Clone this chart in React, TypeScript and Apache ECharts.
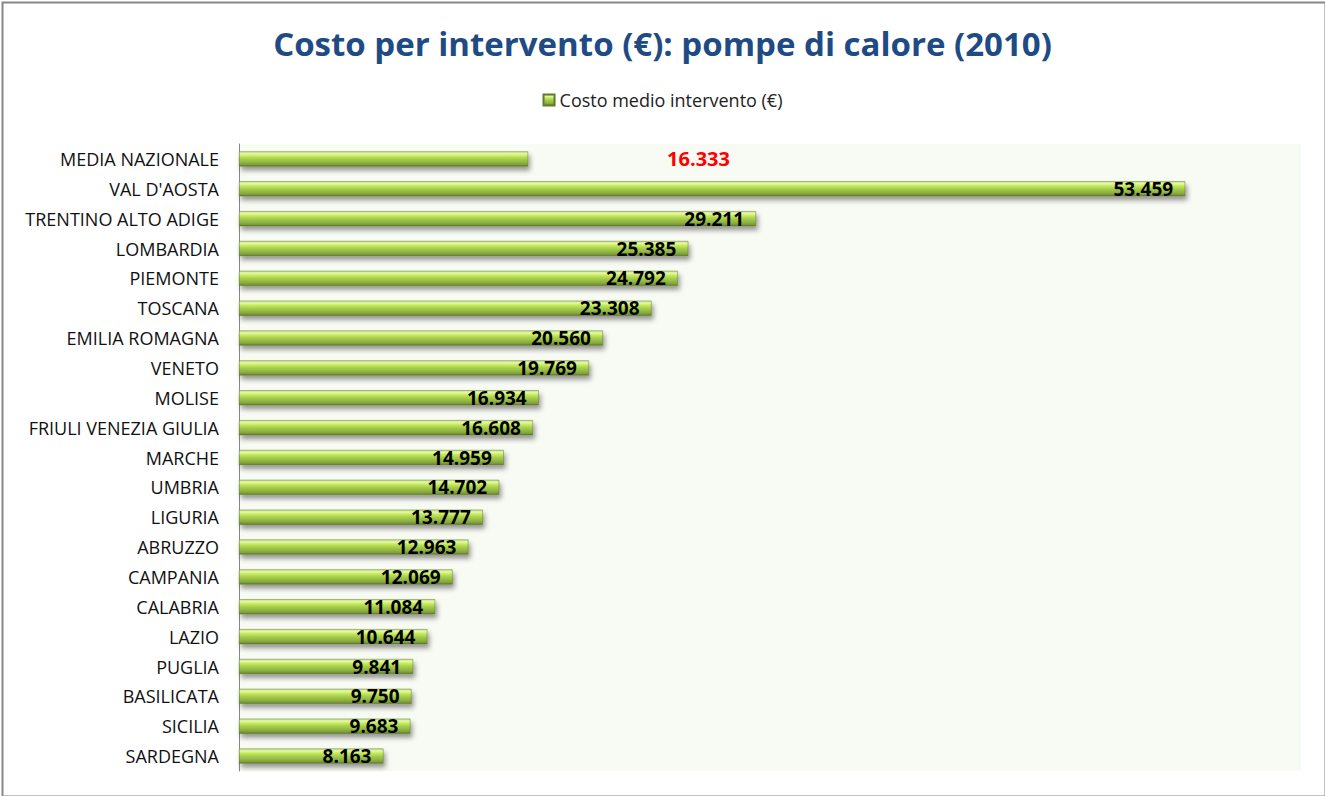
import React, { useEffect, useRef } from "react";
import * as echarts from "echarts";

const categories = [
  "MEDIA NAZIONALE",
  "VAL D'AOSTA",
  "TRENTINO ALTO ADIGE",
  "LOMBARDIA",
  "PIEMONTE",
  "TOSCANA",
  "EMILIA ROMAGNA",
  "VENETO",
  "MOLISE",
  "FRIULI VENEZIA GIULIA",
  "MARCHE",
  "UMBRIA",
  "LIGURIA",
  "ABRUZZO",
  "CAMPANIA",
  "CALABRIA",
  "LAZIO",
  "PUGLIA",
  "BASILICATA",
  "SICILIA",
  "SARDEGNA",
];

const values = [
  16333, 53459, 29211, 25385, 24792, 23308, 20560, 19769, 16934, 16608, 14959,
  14702, 13777, 12963, 12069, 11084, 10644, 9841, 9750, 9683, 8163,
];

const seriesName = "Costo medio intervento (€)";
const titleText = "Costo per intervento (€): pompe di calore (2010)";

const fmt = (v: number) => {
  const s = Math.round(v).toString();
  return s.replace(/\B(?=(\d{3})+(?!\d))/g, ".");
};

const barGradient = new echarts.graphic.LinearGradient(0, 0, 0, 1, [
  { offset: 0, color: "#c9e58a" },
  { offset: 0.15, color: "#e4f7a8" },
  { offset: 0.3, color: "#c6ea5a" },
  { offset: 0.5, color: "#a8cf4c" },
  { offset: 0.75, color: "#8fb244" },
  { offset: 0.9, color: "#7d9e38" },
  { offset: 1, color: "#5a7424" },
]);

export default function App() {
  const ref = useRef<HTMLDivElement>(null);
  useEffect(() => {
    if (!ref.current) return;
    const chart = echarts.init(ref.current, undefined, { renderer: "svg" });
    chart.setOption({
      animation: false,
      backgroundColor: "#ffffff",
      title: {
        text: titleText,
        left: "center",
        top: 22,
        textStyle: {
          fontFamily: "Open Sans",
          fontWeight: "bold",
          fontSize: 33,
          color: "#1f4b85",
        },
      },
      legend: {
        top: 86,
        left: "center",
        itemWidth: 11,
        itemHeight: 11,
        itemGap: 6,
        icon: "rect",
        textStyle: { fontFamily: "Open Sans", fontSize: 18, color: "#222" },
        data: [seriesName],
      },
      grid: {
        left: 239,
        right: 24,
        top: 144,
        bottom: 25,
        containLabel: false,
        show: true,
        backgroundColor: "#f8faf4",
        borderWidth: 0,
      },
      xAxis: {
        type: "value",
        min: 0,
        max: 60000,
        show: true,
        axisLabel: { show: false },
        axisLine: { show: false },
        axisTick: { show: false },
        splitLine: { show: false },
      },
      yAxis: {
        type: "category",
        inverse: true,
        data: categories,
        axisLine: { show: true, lineStyle: { color: "#888888", width: 1 } },
        axisTick: { show: false },
        axisLabel: {
          fontFamily: "Open Sans",
          fontSize: 18,
          color: "#111",
          margin: 20,
        },
      },
      series: [
        {
          name: seriesName,
          type: "bar",
          barWidth: 15,
          data: values.map((v, i) =>
            i === 0
              ? {
                  value: v,
                  label: {
                    show: true,
                    position: "right",
                    distance: 139,
                    color: "#ff0000",
                    fontWeight: "bold",
                    fontSize: 20,
                    fontFamily: "Open Sans",
                    formatter: (p: any) => fmt(p.value),
                  },
                }
              : v
          ),
          itemStyle: {
            color: barGradient,
            borderColor: "#5f7a28",
            borderWidth: 0.5,
            shadowColor: "rgba(0,0,0,0.4)",
            shadowBlur: 5,
            shadowOffsetX: 2,
            shadowOffsetY: 4,
          },
          label: {
            show: true,
            position: "insideRight",
            distance: 12,
            color: "#000",
            fontWeight: "bold",
            fontSize: 19,
            fontFamily: "Open Sans",
            formatter: (p: any) => fmt(p.value),
          },
        },
      ],
      graphic: [
        {
          type: "rect",
          left: 0,
          top: 0,
          shape: { x: 0, y: 0, width: 1323, height: 794 },
          style: { fill: "none", stroke: "#888888", lineWidth: 2 },
          silent: true,
        },
      ],
    });
    return () => chart.dispose();
  }, []);
  return (
    <div
      ref={ref}
      style={{ position: "absolute", left: 0, top: 0, width: 1325, height: 796 }}
    />
  );
}
